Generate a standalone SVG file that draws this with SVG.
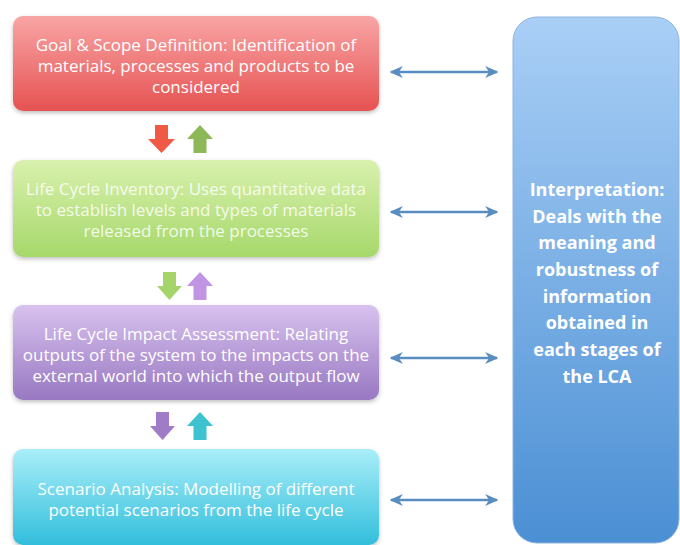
<svg xmlns="http://www.w3.org/2000/svg" width="680" height="545" viewBox="0 0 680 545">
<style>
.t{font-family:"Open Sans","Liberation Sans",sans-serif;font-size:17px;fill:#ffffff;text-anchor:middle}
.p{font-family:"Open Sans","Liberation Sans",sans-serif;font-size:18px;font-weight:bold;fill:#ffffff;text-anchor:middle}
.c{fill:none;stroke:#5a8dbf;stroke-width:2.4}
</style>
<defs>
<linearGradient id="gr" x1="0" y1="0" x2="0" y2="1"><stop offset="0" stop-color="#f9a5a5"/><stop offset="1" stop-color="#e65252"/></linearGradient>
<linearGradient id="gg" x1="0" y1="0" x2="0" y2="1"><stop offset="0" stop-color="#d9f1ae"/><stop offset="1" stop-color="#a6d86a"/></linearGradient>
<linearGradient id="gp" x1="0" y1="0" x2="0" y2="1"><stop offset="0" stop-color="#d8c2ee"/><stop offset="1" stop-color="#9878c2"/></linearGradient>
<linearGradient id="gc" x1="0" y1="0" x2="0" y2="1"><stop offset="0" stop-color="#a9eef8"/><stop offset="1" stop-color="#32bedc"/></linearGradient>
<linearGradient id="gb" x1="0" y1="0" x2="0" y2="1"><stop offset="0" stop-color="#a9cff6"/><stop offset="1" stop-color="#4b8fd4"/></linearGradient>
<filter id="sh" x="-5%" y="-5%" width="110%" height="115%"><feDropShadow dx="0" dy="2" stdDeviation="2" flood-color="#000" flood-opacity="0.25"/></filter>
<marker id="ah" viewBox="0 0 10 10" refX="9" refY="5" markerWidth="5.5" markerHeight="5.5" orient="auto-start-reverse"><path d="M0,0.5 L10,5 L0,9.5 L3,5 Z" fill="#5a8dbf"/></marker>
</defs>
<rect width="680" height="545" fill="#ffffff"/>

<g id="goal">
<rect x="13" y="16" width="366" height="95" rx="10" fill="url(#gr)" filter="url(#sh)"/>
<text class="t" x="196" y="51">Goal &amp; Scope Definition: Identification of</text>
<text class="t" x="196" y="72">materials, processes and products to be</text>
<text class="t" x="196" y="93">considered</text>
</g>
<g id="inventory">
<rect x="13" y="160" width="366" height="97" rx="10" fill="url(#gg)" filter="url(#sh)"/>
<text class="t" x="196" y="195" fill-opacity="0.85">Life Cycle Inventory: Uses quantitative data</text>
<text class="t" x="196" y="216" fill-opacity="0.85">to establish levels and types of materials</text>
<text class="t" x="196" y="237" fill-opacity="0.85">released from the processes</text>
</g>
<g id="impact">
<rect x="13" y="305" width="366" height="95" rx="10" fill="url(#gp)" filter="url(#sh)"/>
<text class="t" x="196" y="340">Life Cycle Impact Assessment: Relating</text>
<text class="t" x="196" y="361">outputs of the system to the impacts on the</text>
<text class="t" x="196" y="382">external world into which the output flow</text>
</g>
<g id="scenario">
<rect x="13" y="449" width="366" height="96" rx="10" fill="url(#gc)" filter="url(#sh)"/>
<text class="t" x="196" y="495">Scenario Analysis: Modelling of different</text>
<text class="t" x="196" y="516">potential scenarios from the life cycle</text>
</g>
<g id="interpretation">
<rect x="513" y="17" width="166" height="526" rx="24" fill="url(#gb)" stroke="#8fb4dc" stroke-width="1"/>
<text class="p" x="597" y="196">Interpretation:</text>
<text class="p" x="597" y="223">Deals with the</text>
<text class="p" x="597" y="249">meaning and</text>
<text class="p" x="597" y="276">robustness of</text>
<text class="p" x="597" y="303">information</text>
<text class="p" x="597" y="329">obtained in</text>
<text class="p" x="597" y="356">each stages of</text>
<text class="p" x="597" y="383">the LCA</text>
</g>
<g id="connectors">
<line class="c" x1="391" y1="72" x2="497" y2="72" marker-start="url(#ah)" marker-end="url(#ah)"/>
<line class="c" x1="391" y1="212" x2="497" y2="212" marker-start="url(#ah)" marker-end="url(#ah)"/>
<line class="c" x1="391" y1="358" x2="497" y2="358" marker-start="url(#ah)" marker-end="url(#ah)"/>
<line class="c" x1="391" y1="500" x2="497" y2="500" marker-start="url(#ah)" marker-end="url(#ah)"/>
<path d="M155,125 H168 V139 H175 L161.5,153 L148,139 H155 Z" fill="#f05a44"/>
<path d="M193.5,153 H206.5 V139 H213 L200,125 L187,139 H193.5 Z" fill="#8db858"/>
<path d="M163,272 H176 V286 H182 L169.5,300 L157,286 H163 Z" fill="#a5d56a"/>
<path d="M193.5,300 H206.5 V286 H213 L200,272 L187,286 H193.5 Z" fill="#c295e4"/>
<path d="M156,412 H169 V426 H175 L162.5,440 L150,426 H156 Z" fill="#a07cc8"/>
<path d="M193.5,440 H206.5 V426 H213 L200,412 L187,426 H193.5 Z" fill="#3ec2d0"/>
</g>
</svg>
